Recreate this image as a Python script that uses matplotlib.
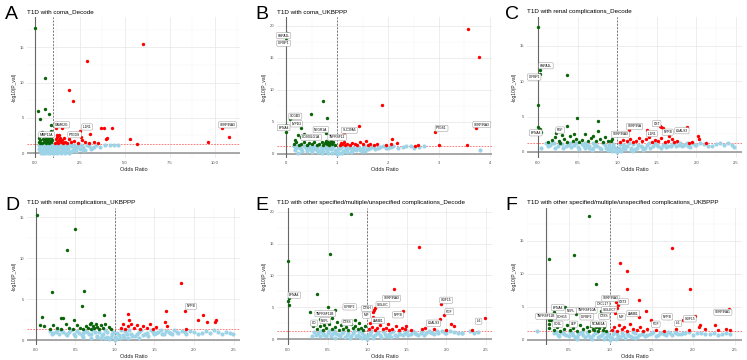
import matplotlib
matplotlib.use("Agg")
import matplotlib.pyplot as plt
from matplotlib.ticker import AutoMinorLocator

plt.rcParams['font.family'] = ['Liberation Sans', 'DejaVu Sans']

BLUE = '#9DD3E6'
GREEN = '#0A640A'
RED = '#FF0000'

# ---- panel A: T1D with coma_Decode ----
A_blue = [(0.2,1.2),(0.3,0.9),(0.3,0.5),(0.4,1.1),(0.4,0.2),(0.5,0.7),(0.5,1.2),(0.6,0.4),(0.6,1.0),
          (0.7,0.1),(0.7,0.8),(0.8,0.5),(0.8,1.2),(0.9,0.2),(0.9,0.9),(1.0,0.05),(1.0,0.6),(1.0,1.1),
          (1.1,0.3),(1.1,0.9),(1.2,0.1),(1.2,0.7),(1.3,1.2),(1.3,0.4),(1.4,0.9),(1.5,0.2),(1.5,0.6),
          (1.6,1.1),(1.7,0.4),(1.8,0.8),(1.9,0.2),(2.0,1.0),(2.1,0.5),(2.2,0.8),(2.3,0.3),(2.4,1.1),
          (2.5,0.6),(2.7,0.9),(2.8,0.4),(3.0,1.0),(3.2,0.7),(3.4,1.1),(3.6,0.9),(3.9,1.2),(4.2,1.1),
          (4.4,1.15),(4.6,1.1),(0.35,0.0),(0.55,0.0),(0.85,0.0),(1.25,0.0),(1.65,0.0),
          (0.25,0.6),(0.35,1.25),(0.45,0.4),(0.55,0.9),(0.65,1.2),(0.75,0.3),(0.85,0.7),(0.95,1.2),
          (1.05,0.4),(1.15,1.2),(1.25,0.8),(1.35,0.2),(1.45,1.2),(1.55,0.9),(1.65,0.5),(1.75,1.0),
          (1.85,0.6),(1.95,1.2),(2.05,0.3),(2.15,1.1),(2.25,0.6),(2.35,0.9),(2.55,1.1),(2.65,0.5),
          (2.9,1.2),(3.1,0.6),(3.3,0.9),(0.45,0.0),(0.75,0.0),(1.05,0.0),(1.45,0.0),(1.9,0.0)]
A_green = [(0,17.8),(0.56,10.7),(0.56,6.3),(0.15,5.9),(0.3,4.9),(0.8,5.5),(0.87,4.0),(0.37,3.0),(0.87,3.2),
           (0.2,1.5),(0.25,2.2),(0.3,1.8),(0.35,2.5),(0.4,1.4),(0.45,2.0),(0.5,1.6),(0.5,2.4),(0.55,1.9),
           (0.6,1.4),(0.6,2.2),(0.65,1.7),(0.7,2.6),(0.7,1.5),(0.75,2.0),(0.8,1.4),(0.8,2.3),(0.85,1.7),
           (0.9,1.5),(0.9,2.1),(0.95,1.8),(0.3,1.4),(0.4,2.7),(0.55,1.5),(0.65,2.4)]
A_red = [(6.0,15.4),(2.87,13.1),(1.9,9.0),(2.1,7.4),(1.24,4.3),(1.19,3.6),(1.5,3.5),(2.5,3.1),(2.55,2.3),
         (3.05,2.7),(3.7,3.6),(3.85,3.6),(4.3,3.5),(4.0,2.2),(3.96,2.0),(5.3,2.0),(5.7,1.3),(9.6,1.6),
         (10.4,3.5),(10.8,2.3),(1.1,1.4),(1.15,2.0),(1.2,1.6),(1.25,2.3),(1.3,1.4),(1.35,1.8),(1.4,2.2),
         (1.45,1.5),(1.5,1.9),(1.55,1.4),(1.6,2.1),(1.7,1.6),(1.8,1.4),(1.9,2.0),(2.0,1.5),(2.2,1.7),
         (2.4,1.4),(2.6,1.9),(2.8,1.5),(3.0,1.4),(3.3,1.6),(3.5,1.4),(1.2,2.6),(1.35,2.5)]
A_labels = [(1.5,4.0,'CAMK2G'),(0.65,2.6,'MMP12A'),(2.2,2.6,'PTGDS'),(2.9,3.7,'IL1R1'),(10.7,4.0,'SERPINA3')]

# ---- panel B: T1D with coma_UKBPPP ----
B_blue = [(0.15,1.2),(0.2,0.9),(0.25,1.1),(0.3,0.7),(0.35,1.2),(0.4,0.5),(0.45,0.9),(0.5,0.3),(0.5,1.2),
          (0.55,0.7),(0.6,1.0),(0.65,0.4),(0.7,0.8),(0.7,0.15),(0.75,1.2),(0.8,0.5),(0.85,0.9),(0.9,0.2),
          (0.9,1.1),(0.95,0.6),(1.0,0.05),(1.0,0.4),(1.05,0.9),(1.1,0.2),(1.1,1.2),(1.15,0.6),(1.2,0.3),
          (1.25,1.0),(1.3,0.5),(1.35,0.8),(1.4,1.2),(1.45,0.6),(1.5,1.0),(1.6,0.8),(1.7,1.1),(1.8,0.9),
          (1.9,1.2),(2.0,1.0),(2.1,1.2),(2.3,1.1),(2.45,1.2),(2.6,1.1),(2.7,1.2),(3.8,0.6),(0.23,0.2),
          (1.55,0.4),(1.2,0.7),(0.6,0.6),
          (0.18,0.6),(0.22,1.25),(0.28,1.0),(0.32,0.4),(0.38,0.9),(0.42,1.2),(0.48,0.6),(0.52,0.9),
          (0.58,1.25),(0.62,0.3),(0.68,1.1),(0.72,0.5),(0.78,0.9),(0.82,0.2),(0.88,0.7),(0.92,1.25),
          (0.97,0.3),(1.02,0.7),(1.05,0.2),(1.08,1.1),(1.12,0.5),(1.18,0.9),(1.22,1.2),(1.28,0.3),
          (1.32,1.0),(1.38,0.6),(1.42,0.9),(1.48,0.4),(1.52,1.2),(1.58,0.7),(1.65,1.0),(1.75,0.8),
          (1.85,1.1),(1.95,0.9),(2.05,1.1),(2.2,1.0),(2.35,1.2),(2.5,1.0)]
B_green = [(0.01,18.9),(0,17.8),(0,4.6),(0,3.5),(0.07,5.5),(0.29,4.1),(0.48,6.2),(0.72,8.2),(0.8,5.6),
           (0.78,3.3),(0.23,3.0),(0.35,3.1),(0.17,2.2),(0.29,2.7),(0.15,1.5),(0.2,1.8),(0.25,1.4),
           (0.3,1.6),(0.35,1.9),(0.4,1.4),(0.45,1.7),(0.5,1.5),(0.55,1.8),(0.6,1.4),(0.65,1.6),(0.7,1.9),
           (0.72,1.4),(0.76,1.7),(0.8,1.5),(0.82,1.9),(0.85,1.4),(0.87,1.7),(0.9,1.5),(0.92,1.8),
           (0.88,2.0),(0.78,2.1),(0.95,1.4)]
B_red = [(3.57,19.5),(3.78,15.2),(1.89,7.6),(1.43,4.4),(1.14,3.1),(1.12,2.7),(2.93,3.4),(3.73,4.0),
         (2.08,2.3),(1.56,2.1),(2.17,1.7),(2.06,1.6),(3.0,1.4),(3.54,1.4),(2.58,1.4),(2.52,1.3),
         (1.06,1.4),(1.08,1.7),(1.1,1.5),(1.13,1.9),(1.16,1.4),(1.2,1.6),(1.25,1.4),(1.3,1.7),(1.35,1.5),
         (1.4,1.4),(1.45,1.8),(1.5,1.5),(1.6,1.4),(1.65,1.6),(1.72,1.4),(1.78,1.5),(1.95,1.35)]
B_labels = [(-0.05,18.5,'HSPA1L'),(-0.05,17.3,'IGFBP1'),(0.18,5.9,'SCGB3'),(-0.05,4.1,'EFNA4'),
            (0.2,4.7,'LYPD3'),(0.68,3.8,'NEGR1A'),(0.49,2.6,'CD300LG1A'),(1.0,2.6,'TNFRSF11'),
            (1.24,3.7,'SLC39A5'),(3.05,4.0,'PTGS1'),(3.84,4.6,'SERPINA3')]

# ---- panel C: T1D with renal complications_Decode ----
C_blue = [(0.04,0.6),(0.1,1.2),(0.15,1.0),(0.2,1.2),(0.25,0.9),(0.3,1.1),(0.35,0.8),(0.4,1.2),(0.45,1.0),
          (0.5,0.7),(0.55,1.1),(0.6,0.6),(0.65,0.9),(0.7,0.5),(0.7,1.2),(0.75,0.8),(0.8,0.4),(0.85,1.0),
          (0.88,0.3),(0.9,0.7),(0.93,0.15),(0.95,1.1),(0.97,0.5),(1.0,0.05),(1.0,0.3),(1.03,0.6),
          (1.05,0.15),(1.08,1.0),(1.1,0.4),(1.13,0.8),(1.17,0.3),(1.2,1.1),(1.25,0.6),(1.3,0.9),
          (1.35,0.5),(1.4,1.2),(1.45,0.8),(1.5,1.0),(1.55,0.6),(1.6,1.2),(1.65,0.9),(1.7,1.1),(1.75,0.8),
          (1.8,1.2),(1.85,1.0),(1.9,0.9),(1.95,1.2),(2.0,1.0),(2.1,1.1),(2.2,0.9),(2.3,1.2),(2.35,1.0),
          (2.4,1.2),(2.48,0.7),(0.6,1.2),(1.2,0.2),
          (0.12,0.8),(0.18,1.25),(0.22,0.6),(0.28,1.25),(0.32,0.5),(0.38,1.0),(0.42,0.7),(0.48,1.25),
          (0.52,0.4),(0.58,0.9),(0.62,1.0),(0.68,0.3),(0.72,1.0),(0.78,0.6),(0.82,1.2),(0.86,0.5),
          (0.9,1.0),(0.92,0.4),(0.95,0.8),(0.98,0.2),(1.02,0.4),(1.04,1.1),(1.07,0.5),(1.1,0.8),
          (1.15,1.2),(1.18,0.6),(1.22,0.4),(1.27,1.0),(1.32,0.7),(1.38,1.0),(1.42,0.6),(1.48,1.2),
          (1.52,0.8),(1.58,1.0),(1.62,0.7),(1.68,0.9),(1.72,1.2),(1.78,1.0),(1.82,0.8),(1.88,1.2),
          (1.92,0.7),(1.98,1.0),(2.05,1.2),(2.15,0.9),(2.25,1.1),(2.45,1.0),(1.33,0.3),(0.65,0.5)]
C_green = [(0,17.7),(0.04,12.2),(0.03,11.6),(0.02,11.1),(0.36,10.9),(0,6.7),(0,3.5),(0.02,3.3),(0.04,2.8),
           (0.49,4.8),(0.76,4.4),(0.36,3.6),(0.76,3.0),(0.23,2.7),(0.12,1.4),(0.18,1.7),(0.22,2.1),
           (0.26,1.5),(0.3,2.4),(0.33,1.8),(0.37,1.4),(0.4,2.2),(0.44,1.6),(0.48,1.9),(0.52,1.4),
           (0.56,1.7),(0.6,2.5),(0.63,1.5),(0.67,2.0),(0.7,2.3),(0.73,1.6),(0.78,1.8),(0.82,1.4),
           (0.85,2.1),(0.88,1.6),(0.92,1.5),(0.94,1.9),(0.28,1.3),(0.45,2.6)]
C_red = [(1.15,3.1),(1.38,3.1),(1.54,3.7),(1.56,3.5),(1.58,3.4),(1.89,3.5),(1.43,2.8),(1.66,2.2),(1.7,1.9),
         (2.02,2.3),(2.03,1.9),(2.13,1.3),(1.91,1.3),(1.04,1.4),(1.08,1.7),(1.12,1.5),(1.16,1.9),(1.2,1.4),
         (1.24,1.6),(1.28,2.0),(1.32,1.5),(1.36,1.8),(1.4,2.1),(1.44,1.4),(1.48,1.7),(1.52,1.5),(1.56,2.0),
         (1.6,1.4),(1.64,1.6),(1.72,1.4),(1.76,1.5),(1.95,1.35)]
C_labels = [(0.1,12.2,'HSPA1L'),(-0.05,10.6,'IGFBP1'),(-0.03,2.7,'EFNA4'),(0.28,3.1,'FGF'),
            (1.22,3.6,'SERPINA'),(1.04,2.5,'SERPINA3'),(1.44,2.6,'IL1R1'),(1.5,4.0,'CST'),
            (1.64,2.8,'NPPB'),(1.82,3.0,'LGALS3')]

# ---- panel D: T1D with renal complications_UKBPPP ----
D_blue = [(0.18,1.1),(0.22,0.9),(0.27,1.2),(0.3,0.8),(0.35,1.0),(0.4,0.6),(0.45,1.2),(0.5,0.5),(0.55,0.9),
          (0.6,0.4),(0.62,1.1),(0.67,0.7),(0.7,0.3),(0.75,1.0),(0.78,0.5),(0.82,0.2),(0.85,0.8),(0.88,1.2),
          (0.9,0.4),(0.93,0.1),(0.96,0.7),(1.0,0.05),(1.0,0.4),(1.03,0.9),(1.06,0.2),(1.1,0.6),(1.13,1.1),
          (1.16,0.3),(1.2,0.8),(1.25,0.5),(1.3,1.0),(1.35,0.6),(1.4,0.9),(1.45,1.2),(1.5,0.7),(1.55,1.0),
          (1.6,0.8),(1.65,1.1),(1.7,0.9),(1.75,1.2),(1.8,0.9),(1.85,1.1),(1.9,0.8),(2.0,1.0),(2.05,0.8),
          (2.15,1.1),(2.2,0.9),(2.3,1.0),(2.35,0.8),(2.45,0.9),(2.49,0.7),(0.6,0.9),(1.3,0.3),
          (0.2,0.7),(0.25,1.0),(0.32,1.2),(0.38,0.7),(0.42,1.0),(0.48,0.8),(0.52,1.1),(0.58,0.6),
          (0.65,1.0),(0.7,0.8),(0.72,1.2),(0.77,0.4),(0.8,1.0),(0.84,0.6),(0.87,0.3),(0.9,1.0),
          (0.95,0.4),(0.98,1.0),(1.02,0.2),(1.05,0.6),(1.08,1.2),(1.12,0.4),(1.15,0.8),(1.18,1.2),
          (1.22,0.5),(1.28,0.8),(1.33,1.2),(1.38,0.8),(1.42,0.5),(1.48,1.0),(1.52,0.9),(1.58,1.2),
          (1.62,0.7),(1.68,1.0),(1.72,0.7),(1.78,1.0),(1.88,1.0),(1.95,1.1),(2.1,0.9),(2.25,1.2),(2.4,1.0)]
D_green = [(0.01,15.2),(0.49,13.6),(0.4,11.0),(0.2,5.9),(0.61,6.0),(0.58,4.1),(0.08,2.8),(0.86,3.1),
           (0.32,2.7),(0.34,2.7),(0.48,2.5),(0.05,1.8),(0.11,1.7),(0.18,1.4),(0.22,1.8),(0.27,1.5),
           (0.32,1.4),(0.38,2.0),(0.42,1.5),(0.47,1.4),(0.52,1.8),(0.56,1.5),(0.6,1.4),(0.64,1.7),
           (0.66,1.5),(0.68,1.9),(0.7,1.4),(0.72,1.7),(0.74,1.5),(0.76,2.0),(0.78,1.6),(0.8,1.4),
           (0.82,1.8),(0.85,1.5),(0.88,2.0),(0.92,1.6),(0.95,1.4),(0.7,2.1)]
D_red = [(1.83,6.9),(1.65,3.6),(1.89,3.5),(1.16,3.2),(2.11,3.0),(2.05,2.4),(2.16,2.2),(2.28,2.4),(2.26,2.2),
         (1.63,2.2),(1.66,1.7),(1.9,1.3),(1.08,1.5),(1.1,1.9),(1.13,1.4),(1.17,1.7),(1.2,2.0),(1.24,1.5),
         (1.28,1.8),(1.32,1.4),(1.36,1.7),(1.4,1.5),(1.44,1.9),(1.48,1.4),(1.52,1.6),(1.18,2.5)]
D_labels = [(1.96,4.1,'NPPB')]

# ---- panel E: T1D with other specified/multiple/unspecified complications_Decode ----
E_blue = [(0.3,0.4),(0.33,1.1),(0.38,0.9),(0.42,1.2),(0.46,0.7),(0.5,1.0),(0.54,0.5),(0.58,1.2),(0.62,0.8),
          (0.66,0.4),(0.7,1.1),(0.74,0.6),(0.78,0.2),(0.82,0.9),(0.86,0.4),(0.9,1.2),(0.93,0.15),(0.96,0.7),
          (1.0,0.05),(1.0,0.4),(1.04,1.0),(1.07,0.2),(1.1,0.6),(1.14,1.1),(1.18,0.3),(1.22,0.8),(1.26,0.5),
          (1.3,1.1),(1.35,0.7),(1.4,1.0),(1.45,0.6),(1.5,1.2),(1.55,0.8),(1.6,1.0),(1.65,0.7),(1.7,1.2),
          (1.75,0.9),(1.8,1.1),(1.85,0.8),(1.9,1.0),(1.95,1.2),(2.0,0.9),(2.1,1.1),(2.2,0.9),(2.3,1.2),
          (2.4,1.1),(0.6,0.2),(1.3,0.3),
          (0.35,0.7),(0.4,0.5),(0.44,1.0),(0.48,0.4),(0.52,1.2),(0.56,0.8),(0.6,1.0),(0.64,0.6),
          (0.68,0.9),(0.72,0.3),(0.76,1.0),(0.8,0.5),(0.84,1.2),(0.88,0.7),(0.91,0.3),(0.94,1.0),
          (0.98,0.3),(1.02,0.7),(1.05,1.2),(1.08,0.4),(1.12,0.9),(1.16,0.6),(1.2,1.2),(1.24,0.4),
          (1.28,0.8),(1.33,1.2),(1.38,0.5),(1.42,0.8),(1.48,1.0),(1.52,0.6),(1.58,1.2),(1.62,0.8),
          (1.68,1.0),(1.72,0.7),(1.78,1.2),(1.82,0.9),(1.88,1.2),(1.98,1.0),(2.05,1.2),(2.15,1.0),
          (2.2,0.9),(2.35,1.0)]
E_green = [(0.79,19.6),(0.53,13.4),(0,12.2),(0.01,6.4),(0,6.0),(0.01,5.4),(0.36,7.0),(0.5,5.0),(0.6,4.5),
           (0.85,3.0),(0.28,4.2),(0.55,3.3),(0.4,3.1),(0.3,2.3),(0.32,2.1),(0.36,1.6),(0.4,2.0),(0.44,1.4),
           (0.48,1.8),(0.52,2.3),(0.56,1.5),(0.6,1.9),(0.64,1.4),(0.67,2.2),(0.7,1.6),(0.73,1.9),(0.76,1.4),
           (0.79,2.4),(0.82,1.7),(0.85,2.0),(0.88,1.5),(0.9,2.5),(0.92,1.8),(0.95,1.4),(0.97,2.1),
           (0.62,2.6),(0.45,2.2)]
E_red = [(1.66,14.4),(1.34,7.8),(1.45,4.4),(1.1,4.9),(1.09,4.6),(1.07,4.2),(1.08,3.4),(1.04,2.5),(1.93,5.5),
         (1.97,3.75),(1.92,3.1),(1.9,2.5),(2.06,2.3),(2.1,2.0),(2.49,3.3),(2.33,1.4),(1.49,2.1),(1.27,2.3),
         (1.73,1.8),(1.69,1.55),(1.03,1.5),(1.06,1.9),(1.1,1.4),(1.13,1.7),(1.16,2.2),(1.2,1.5),(1.24,1.8),
         (1.28,1.4),(1.32,1.6),(1.36,2.0),(1.4,1.4),(1.44,1.7),(1.48,1.5),(1.55,1.4),(1.85,1.5),(2.0,1.4)]
E_labels = [(0.08,6.9,'EFNA4'),(0.47,4.0,'TNFRSF11B'),(0.47,2.9,'NEFL'),(0.33,2.5,'CD'),
            (0.78,5.05,'IGFBP2'),(0.75,2.6,'CTSS'),(1.0,4.8,'CTSH'),(0.99,3.75,'MIF'),
            (1.31,6.4,'SERPINA3'),(1.2,5.4,'SIGLEC'),(1.14,2.9,'LAMB1'),(1.39,3.8,'NPPB'),
            (2.0,6.1,'GDF15'),(2.04,4.3,'PGF'),(1.84,2.5,'LGALS3'),(2.41,2.8,'IL6')]

# ---- panel F: T1D with other specified/multiple/unspecified complications_UKBPPP ----
F_blue = [(0.12,1.3),(0.33,1.0),(0.37,0.8),(0.41,1.2),(0.45,0.9),(0.5,0.6),(0.54,1.1),(0.58,0.4),(0.62,0.9),
          (0.66,1.2),(0.7,0.5),(0.74,0.8),(0.78,0.2),(0.82,1.0),(0.86,0.4),(0.9,0.7),(0.93,0.1),(0.96,1.1),
          (1.0,0.05),(1.0,0.5),(1.04,0.9),(1.07,0.2),(1.1,0.6),(1.14,1.1),(1.18,0.3),(1.22,0.8),(1.26,0.5),
          (1.3,1.0),(1.35,0.7),(1.4,1.2),(1.45,0.8),(1.5,1.0),(1.55,0.6),(1.6,1.1),(1.65,0.9),(1.7,1.2),
          (1.75,0.8),(1.8,1.0),(1.85,0.9),(1.9,1.1),(2.0,0.8),(2.1,1.0),(2.2,0.9),(2.3,0.8),(2.4,1.0),
          (2.45,0.9),(0.6,0.2),(1.3,0.3),
          (0.35,1.2),(0.39,0.6),(0.43,1.0),(0.47,0.7),(0.52,1.2),(0.56,0.8),(0.6,0.5),(0.64,1.1),
          (0.68,0.8),(0.72,1.2),(0.76,0.5),(0.8,0.8),(0.84,1.2),(0.88,0.6),(0.91,1.0),(0.95,0.4),
          (0.98,0.8),(1.02,0.3),(1.05,1.2),(1.09,0.9),(1.12,0.4),(1.16,0.8),(1.2,1.1),(1.24,0.6),
          (1.28,1.2),(1.33,0.5),(1.38,0.9),(1.42,0.6),(1.48,0.9),(1.52,1.2),(1.58,0.8),(1.62,1.0),
          (1.68,0.8),(1.72,1.0),(1.78,1.2),(1.82,0.9),(1.88,1.0),(1.95,1.2),(2.05,1.0),(2.15,0.9),
          (2.25,1.0),(2.35,0.9)]
F_green = [(0.75,18.8),(0.57,12.9),(0.27,12.3),(0.83,8.5),(0.46,4.95),(0.33,4.3),(0.26,3.1),(0.26,2.4),
           (0.26,1.8),(0.59,3.9),(0.89,4.4),(0.29,3.0),(0.32,1.5),(0.36,1.9),(0.4,1.4),(0.44,1.7),(0.48,2.2),
           (0.52,1.5),(0.56,1.8),(0.6,1.4),(0.64,2.3),(0.68,1.6),(0.72,1.9),(0.75,1.4),(0.77,2.1),(0.79,1.7),
           (0.81,1.5),(0.83,2.0),(0.85,1.4),(0.87,1.8),(0.89,2.2),(0.91,1.5),(0.93,1.9),(0.95,1.4),(0.8,2.5)]
F_red = [(1.75,14.0),(1.12,11.7),(1.2,10.5),(1.2,7.8),(1.96,7.7),(1.35,6.1),(1.07,5.75),(1.1,5.25),(1.08,4.8),
         (1.06,4.1),(1.43,4.4),(1.35,3.5),(2.02,3.6),(1.88,3.1),(2.43,4.75),(1.49,3.0),(1.7,3.4),(2.09,2.3),
         (2.07,2.0),(2.26,2.2),(1.02,1.5),(1.05,1.9),(1.08,1.4),(1.11,2.2),(1.14,1.6),(1.17,1.9),(1.2,1.4),
         (1.24,2.4),(1.28,1.7),(1.32,1.5),(1.36,1.9),(1.4,1.4),(1.44,1.6),(1.55,1.5),(1.65,1.4),(1.8,1.6),
         (1.95,1.5),(2.15,1.6),(2.3,1.5),(2.4,1.7),(2.45,1.5)]
F_labels = [(1.01,6.3,'SERPINA3'),(1.16,5.8,'CST3'),(0.37,4.9,'EFNA4'),(0.53,4.4,'NEFL'),
            (0.23,3.6,'TNFRSF11B'),(0.43,3.5,'CDH15'),(0.37,2.4,'CD5L'),(0.56,2.4,'LEP'),
            (0.72,4.5,'TNFRSF10A'),(0.72,3.5,'IGFBP2'),(0.91,5.4,'CXCL17'),(0.99,4.6,'SIGLEC7'),
            (0.93,3.6,'CTSS'),(0.86,2.4,'NCAM1A'),(1.14,3.5,'MIF'),(1.28,4.0,'LAMB1'),(1.55,2.4,'PGF'),
            (1.69,3.5,'NPPB'),(1.82,2.5,'IL6'),(1.96,3.2,'GDF15'),(2.36,4.2,'SERPINA1')]

panels = [
    ('A', 'T1D with coma_Decode', A_blue, A_green, A_red, A_labels,
     [27, 17, 240, 158], (-0.44, 11.4), (-0.7, 19.3), [0, 2.5, 5, 7.5, 10], ['0.0', '2.5', '5.0', '7.5', '10.0'], [0, 5, 10, 15], 0),
    ('B', 'T1D with coma_UKBPPP', B_blue, B_green, B_red, B_labels,
     [277, 17, 492, 158], (-0.18, 4.04), (-0.63, 21.4), [0, 1, 2, 3, 4], ['0', '1', '2', '3', '4'], [0, 5, 10, 15, 20], 0),
    ('C', 'T1D with renal complications_Decode', C_blue, C_green, C_red, C_labels,
     [527, 17, 742, 158], (-0.14, 2.58), (-0.86, 19.1), [0, 0.5, 1, 1.5, 2, 2.5], None, [0, 5, 10, 15], 0),
    ('D', 'T1D with renal complications_UKBPPP', D_blue, D_green, D_red, D_labels,
     [27, 208, 240, 345], (-0.11, 2.58), (-0.6, 16.1), [0, 0.5, 1, 1.5, 2, 2.5], None, [0, 5, 10, 15], 0),
    ('E', 'T1D with other specified/multiple/unspecified complications_Decode', E_blue, E_green, E_red, E_labels,
     [277, 208, 492, 345], (-0.14, 2.58), (-0.94, 20.6), [0, 0.5, 1, 1.5, 2, 2.5], None, [0, 5, 10, 15, 20], 0),
    ('F', 'T1D with other specified/multiple/unspecified complications_UKBPPP', F_blue, F_green, F_red, F_labels,
     [527, 208, 742, 345], (0.0, 2.59), (-0.76, 20.0), [0.5, 1, 1.5, 2, 2.5], None, [0, 5, 10, 15], 0.23),
]

W, H = 747, 360
fig = plt.figure(figsize=(W / 100, H / 100), dpi=100)

for letter, title, blue, green, red, labels, box, xl, yl, xt, xtl, yt, v0 in panels:
    x0, y0, x1, y1 = box
    ax = fig.add_axes([x0 / W, 1 - y1 / H, (x1 - x0) / W, (y1 - y0) / H])
    for s in ax.spines.values():
        s.set_visible(False)
    ax.set_xlim(*xl)
    ax.set_ylim(*yl)
    ax.set_xticks(xt)
    if xtl is None:
        xtl = ['%.1f' % v for v in xt]
    ax.set_xticklabels(xtl)
    ax.set_yticks(yt)
    ax.xaxis.set_minor_locator(AutoMinorLocator(2))
    ax.yaxis.set_minor_locator(AutoMinorLocator(2))
    ax.grid(True, which='major', color='#E6E6E6', lw=0.5)
    ax.grid(True, which='minor', color='#F3F3F3', lw=0.35)
    ax.set_axisbelow(True)
    ax.tick_params(which='both', length=0, labelsize=3, labelcolor='#4D4D4D', pad=2)
    ax.set_xlabel('Odds Ratio', fontsize=4, labelpad=1.5, color='#222222')
    ax.set_ylabel('-log10(P_val)', fontsize=3.5, labelpad=2, color='#222222')
    ax.set_title(title, loc='left', fontsize=4.5, pad=3)

    ax.axhline(0, color='#9A9A9A', lw=1.2, zorder=1)
    ax.axvline(v0, color='#666666', lw=0.8, zorder=1)
    ax.axvline(1, color='#777777', lw=0.7, ls=(0, (2, 1.5)), zorder=1)
    ax.axhline(1.3, color='red', lw=0.6, ls=(0, (2, 1.5)), alpha=0.6, zorder=1)

    for pts, col, sz in ((blue, BLUE, 9), (green, GREEN, 6), (red, RED, 6)):
        xs = [p[0] for p in pts]
        ys = [p[1] for p in pts]
        ax.scatter(xs, ys, s=sz, c=col, lw=0, zorder=3)

    for lx, ly, txt in labels:
        ax.text(lx, ly, txt, fontsize=2.3, ha='center', va='center', zorder=4,
                bbox=dict(boxstyle='round,pad=0.35', fc='white', ec='#888888', lw=0.3))

    fig.text((x0 - 22) / W, 1 - (y0 + 2) / H, letter, fontsize=14, va='baseline', ha='left')

fig.savefig('out.png', dpi=100)
